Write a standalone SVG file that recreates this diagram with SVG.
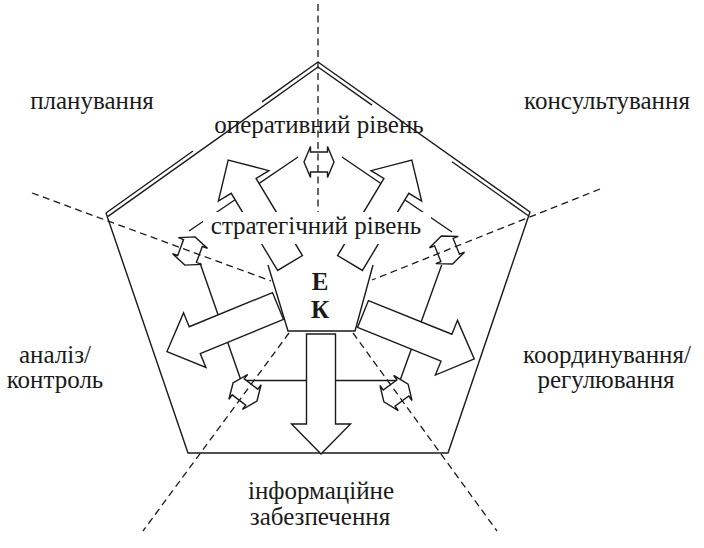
<svg xmlns="http://www.w3.org/2000/svg" width="704" height="548" viewBox="0 0 704 548">
  <style>
    .ln{fill:none;stroke:#1a1a1a;stroke-width:1.4;stroke-linejoin:miter}
    .dash{fill:none;stroke:#1a1a1a;stroke-width:1.3;stroke-dasharray:7 4.5}
    .blk{fill:#fff;stroke:#1a1a1a;stroke-width:1.4;stroke-linejoin:miter}
    .lbl{font-family:"Liberation Serif","Times New Roman",serif;font-size:25px;fill:#1a1a1a;text-anchor:middle}
    .ek{font-weight:bold;font-size:25px}
  </style>
  <defs>
    <!-- block arrow pointing +x, length 120 -->
    <path id="bigArrow" d="M0,-14.5 H90 V-29.5 L120,0 L90,29.5 V14.5 H0 Z"/>
    <!-- small double-headed arrow along the x axis -->
    <path id="twoWay" d="M-15,0 L-8.5,-15.5 V-10 H8.5 V-15.5 L15,0 L8.5,15.5 V10 H-8.5 V15.5 Z"/>
  </defs>
  <rect width="704" height="548" fill="#fff"/>

  <!-- operational level: outer pentagon with doubled top edges -->
  <g id="operational-level">
    <path class="ln" d="M318,62 L530,212 L448,453 L188,453 L106,213"/>
    <path class="ln" d="M318,67 L108,216.4"/>
    <path class="ln" d="M318,62 L262,101.9 M193,151 L106,213"/>
    <path class="ln" d="M318,67 L372,105.1 M452,161.7 L528,215.5"/>
  </g>

  <!-- strategic level: inner pentagon -->
  <g id="strategic-level">
    <path class="ln" d="M298,157 L189,231"/>
    <path class="ln" d="M342,157 L452,232"/>
    <path class="ln" d="M200,263 L241,380.5 L400,380.5 L441.7,265"/>
  </g>

  <!-- two-way links across sector boundaries -->
  <g id="links" class="blk">
    <use href="#twoWay" transform="translate(319,162)"/>
    <use href="#twoWay" transform="translate(190,251) rotate(110.2)"/>
    <use href="#twoWay" transform="translate(447,250) rotate(68.2)"/>
    <use href="#twoWay" transform="translate(245,392) rotate(37.1)"/>
    <use href="#twoWay" transform="translate(396,393) rotate(-36.2)"/>
  </g>

  <!-- sector boundaries -->
  <g id="connectors" class="dash">
    <path d="M318,4 V212"/>
    <path d="M32,193 L271,281"/>
    <path d="M600,189 L372,280"/>
    <path d="M289,333 L143,531"/>
    <path d="M353,333 L497,531"/>
  </g>

  <!-- functional arrows from the core -->
  <g id="arrows" class="blk">
    <use href="#bigArrow" transform="translate(278,306) rotate(157.7)"/>
    <use href="#bigArrow" transform="translate(363,314) rotate(22)"/>
    <use href="#bigArrow" transform="translate(321,334) rotate(90)"/>
  </g>

  <g id="core">
    <path class="blk" d="M268,265 L288,331 L355,331 L373,265"/>
  </g>

  <g id="arrows-up" class="blk">
    <use href="#bigArrow" transform="translate(290,263) rotate(-121)"/>
    <use href="#bigArrow" transform="translate(350,263) rotate(-59)"/>
  </g>

  <g id="core-label">
    <text class="lbl ek" x="320" y="290">Е</text>
    <text class="lbl ek" x="320" y="318">К</text>
  </g>

  <g id="level-labels">
    <rect x="203" y="212" width="228" height="32" fill="#fff"/>
    <text class="lbl" x="316" y="234">стратегічний рівень</text>
    <text class="lbl" x="319" y="133">оперативний рівень</text>
  </g>

  <g id="function-labels">
    <text class="lbl" x="92" y="109">планування</text>
    <text class="lbl" x="607" y="109">консультування</text>
    <text class="lbl" x="55" y="363">аналіз/</text>
    <text class="lbl" x="55" y="388">контроль</text>
    <text class="lbl" x="607" y="363">координування/</text>
    <text class="lbl" x="606" y="388">регулювання</text>
    <text class="lbl" x="321" y="499">інформаційне</text>
    <text class="lbl" x="320" y="525">забезпечення</text>
  </g>
</svg>
